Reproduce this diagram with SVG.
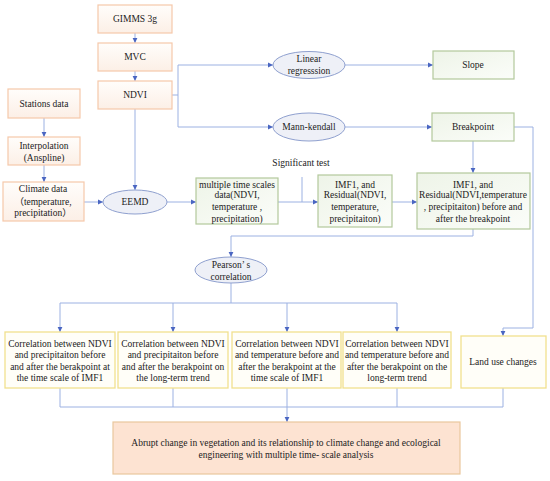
<svg xmlns="http://www.w3.org/2000/svg" width="550" height="481" viewBox="0 0 550 481" font-family="'Liberation Serif', 'DejaVu Serif', serif">
<defs>
<linearGradient id="gOr" x1="0" y1="0" x2="0" y2="1"><stop offset="0" stop-color="#fffdfb"/><stop offset="1" stop-color="#fcefe6"/></linearGradient>
<linearGradient id="gGr" x1="0" y1="0" x2="1" y2="1"><stop offset="0" stop-color="#eef4e8"/><stop offset="1" stop-color="#fbfdf9"/></linearGradient>
<marker id="ar" markerUnits="userSpaceOnUse" markerWidth="6" markerHeight="6" refX="5" refY="3" orient="auto"><path d="M0,0.6 L5,3 L0,5.4 Z" fill="#4a66c2"/></marker>
<style>
.or{fill:url(#gOr);stroke:#f6c8aa;stroke-width:1.2}
.gr{fill:url(#gGr);stroke:#b3c99c;stroke-width:1.2}
.el{fill:#eef0f7;stroke:#8fa0cf;stroke-width:1}
.ye{fill:#fffef8;stroke:#f1e08e;stroke-width:1.3}
.fin{fill:#fde3d2;stroke:#e9c79d;stroke-width:1.2}
text{font-family:'Liberation Serif','Noto Sans CJK SC',serif;font-size:9.5px;fill:#222;text-anchor:middle}
.c path{fill:none;stroke:#9cb1e2;stroke-width:1}
.c path.a{marker-end:url(#ar)}
</style>
</defs>
<rect width="550" height="481" fill="#fff"/>
<g class="c" id="connectors">
<path class="a" d="M135,33 V43"/>
<path class="a" d="M135,71 V81"/>
<path class="a" d="M135,109 V190"/>
<path class="a" d="M44,118 V137"/>
<path class="a" d="M44,165 V182"/>
<path class="a" d="M84,202 H103"/>
<path class="a" d="M167,202 H196"/>
<path class="a" d="M278,202 H318"/>
<path d="M302,177 V202"/>
<path class="a" d="M392,202 H417"/>
<path d="M172,95 H178 M178,65 V127"/>
<path class="a" d="M178,65 H273"/>
<path class="a" d="M178,127 H273"/>
<path class="a" d="M345,65 H433"/>
<path class="a" d="M345,127 H432"/>
<path class="a" d="M473,141 V173"/>
<path class="a" d="M514,127 H533 V328 H503 V336"/>
<path class="a" d="M473,229 V236 H231 V257"/>
<path d="M231,283 V303 M60,303 H397"/>
<path class="a" d="M60,303 V332"/>
<path class="a" d="M173,303 V332"/>
<path class="a" d="M287,303 V332"/>
<path class="a" d="M397,303 V332"/>
<path d="M60,388 V407 M173,388 V407 M287,388 V407 M397,388 V407 M503,388 V407 M60,407 H503"/>
<path class="a" d="M287,407 V422"/>
</g>
<g id="gimms"><rect class="or" x="98" y="5" width="74" height="28"/><text x="135" y="22.3">GIMMS 3g</text></g>
<g id="mvc"><rect class="or" x="98" y="43" width="74" height="28"/><text x="135" y="60.3">MVC</text></g>
<g id="ndvi"><rect class="or" x="98" y="81" width="74" height="28"/><text x="135" y="98.3">NDVI</text></g>
<g id="stations"><rect class="or" x="8" y="89" width="72" height="29"/><text x="44" y="107.3">Stations data</text></g>
<g id="interp"><rect class="or" x="8" y="137" width="72" height="28"/><text x="44" y="149.3">Interpolation</text><text x="44" y="160.5">(Anspline)</text></g>
<g id="climate"><rect class="or" x="3" y="182" width="81" height="39"/><text x="43" y="192.3">Climate data</text><text x="43" y="205.3">（temperature,</text><text x="43" y="216.3">precipitation）</text></g>
<g id="eemd"><ellipse class="el" cx="135" cy="202" rx="32" ry="12"/><text x="135" y="205.3">EEMD</text></g>
<g id="multi"><rect class="gr" x="196" y="178" width="82" height="46"/><text x="237" y="187.5">multiple time scales</text><text x="237" y="198.3">data(NDVI,</text><text x="237" y="210">temperature ,</text><text x="237" y="221.5">precipitation)</text></g>
<g id="sig"><text x="301" y="166.3">Significant test</text></g>
<g id="imf1"><rect class="gr" x="318" y="175" width="74" height="52"/><text x="355" y="187.5">IMF1, and</text><text x="355" y="198.3">Residual(NDVI,</text><text x="355" y="210">temperature,</text><text x="355" y="221.5">precipitaiton)</text></g>
<g id="imf2"><rect class="gr" x="417" y="173" width="113" height="56"/><text x="473" y="187.5">IMF1, and</text><text x="473" y="198.3">Residual(NDVI,temperature</text><text x="473" y="210">, precipitaiton) before and</text><text x="473" y="221.5">after the breakpoint</text></g>
<g id="linear"><ellipse class="el" cx="309" cy="65" rx="36" ry="13.5"/><text x="309" y="62">Linear</text><text x="309" y="74">regresssion</text></g>
<g id="slope"><rect class="gr" x="433" y="51" width="81" height="28"/><text x="473" y="68.3">Slope</text></g>
<g id="mann"><ellipse class="el" cx="309" cy="127" rx="36" ry="14"/><text x="309" y="130.3">Mann-kendall</text></g>
<g id="breakpoint"><rect class="gr" x="432" y="113" width="82" height="28"/><text x="473" y="130.3">Breakpoint</text></g>
<g id="pearson"><ellipse class="el" cx="231" cy="270" rx="36" ry="13"/><text x="231" y="268">Pearson’ s</text><text x="231" y="279.5">correlation</text></g>
<g id="corr1"><rect class="ye" x="5" y="332" width="110" height="56"/><text x="60" y="346.5">Correlation between NDVI</text><text x="60" y="358.3">and precipitaiton before</text><text x="60" y="369.5">and after the berakpoint at</text><text x="60" y="381">the time scale of IMF1</text></g>
<g id="corr2"><rect class="ye" x="118" y="332" width="110" height="56"/><text x="173" y="346.5">Correlation between NDVI</text><text x="173" y="358.3">and precipitaiton before</text><text x="173" y="369.5">and after the berakpoint on</text><text x="173" y="381">the long-term trend</text></g>
<g id="corr3"><rect class="ye" x="232" y="332" width="109" height="56"/><text x="287" y="346.5">Correlation between NDVI</text><text x="287" y="358.3">and temperature before and</text><text x="287" y="369.5">after the berakpoint  at the</text><text x="287" y="381">time scale of IMF1</text></g>
<g id="corr4"><rect class="ye" x="343" y="332" width="108" height="56"/><text x="397" y="346.5">Correlation between NDVI</text><text x="397" y="358.3">and temperature before and</text><text x="397" y="369.5">after the berakpoint  on the</text><text x="397" y="381">long-term trend</text></g>
<g id="landuse"><rect class="ye" x="461" y="336" width="85" height="52"/><text x="503" y="365.3">Land use changes</text></g>
<g id="final"><rect class="fin" x="113" y="422" width="347" height="52"/><text x="286" y="446">Abrupt change in vegetation and its relationship to climate change and ecological</text><text x="286" y="457.5">engineering with multiple time- scale analysis</text></g>
</svg>
